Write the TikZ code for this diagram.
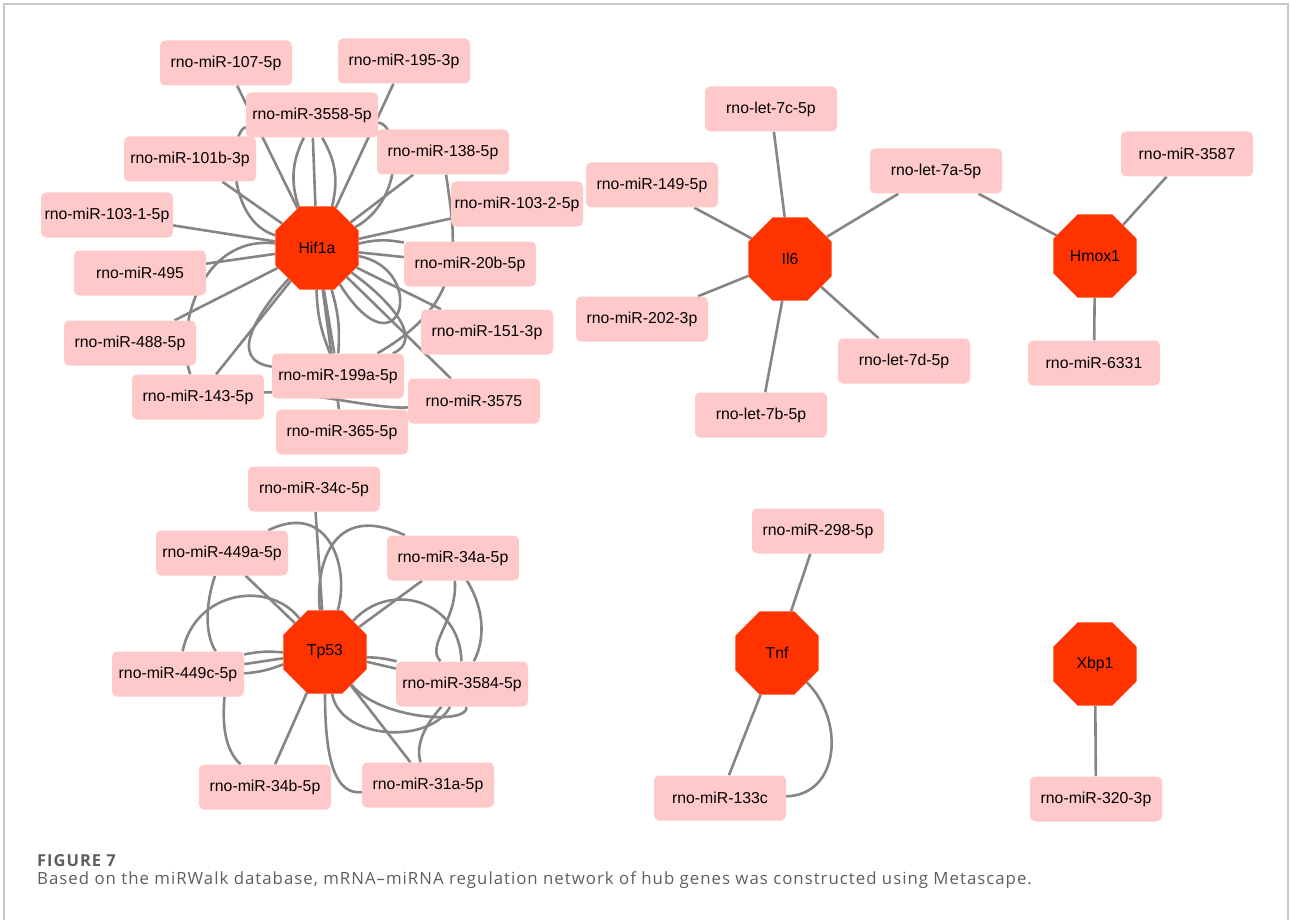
\documentclass[tikz,border=0pt]{standalone}
\usepackage{fontspec}
\setmainfont{Liberation Sans}
\newfontfamily\capfont[LetterSpace=6]{Open Sans}
\usetikzlibrary{shapes.geometric,backgrounds}
\definecolor{genefill}{HTML}{FF3300}
\definecolor{mirfill}{HTML}{FFC9C9}
\definecolor{edgegray}{HTML}{858585}
\definecolor{framegray}{HTML}{C8C8C8}
\definecolor{captxt}{HTML}{5E5E5E}
\tikzset{
  mirbox/.style={rectangle, rounded corners=5pt, fill=mirfill, minimum width=132pt, minimum height=45pt, inner sep=0pt, font=\fontsize{15.8}{18}\selectfont},
  genebox/.style={regular polygon, regular polygon sides=8, minimum size=90pt, inner sep=0pt, fill=genefill, font=\fontsize{15.8}{18}\selectfont},
  link/.style={draw=edgegray, line width=2.6pt},
  capstyle/.style={anchor=base west, inner sep=0pt, text=captxt},
}
\begin{document}
\begin{tikzpicture}[x=1pt,y=-1pt]
\useasboundingbox (0,0) rectangle (1290,920);
\draw[framegray, line width=1.3pt] (4,930) -- (4,4) -- (1288,4) -- (1288,930);

% ---------- Hif1a cluster ----------
\node[genebox] (H) at (317,248) {Hif1a};
\node[mirbox] (a107)  at (226,63)  {rno-miR-107-5p};
\node[mirbox] (a195)  at (404,61)  {rno-miR-195-3p};
\node[mirbox] (a3558) at (312,115) {rno-miR-3558-5p};
\node[mirbox] (a101b) at (190,159) {rno-miR-101b-3p};
\node[mirbox] (a138)  at (443,152) {rno-miR-138-5p};
\node[mirbox] (a1032) at (517,204) {rno-miR-103-2-5p};
\node[mirbox] (a1031) at (107,215) {rno-miR-103-1-5p};
\node[mirbox] (a495)  at (140,273) {rno-miR-495};
\node[mirbox] (a20b)  at (470,264) {rno-miR-20b-5p};
\node[mirbox] (a488)  at (130,343) {rno-miR-488-5p};
\node[mirbox] (a151)  at (487,332) {rno-miR-151-3p};
\node[mirbox] (a199a) at (338,376) {rno-miR-199a-5p};
\node[mirbox] (a143)  at (198,397) {rno-miR-143-5p};
\node[mirbox] (a3575) at (474,401) {rno-miR-3575};
\node[mirbox] (a365)  at (342,432) {rno-miR-365-5p};

% ---------- Il6 / Hmox1 cluster ----------
\node[genebox] (I) at (790,259) {Il6};
\node[mirbox] (b7c)  at (771,109) {rno-let-7c-5p};
\node[mirbox] (b149) at (652,185) {rno-miR-149-5p};
\node[mirbox] (b7a)  at (936,171) {rno-let-7a-5p};
\node[mirbox] (b202) at (642,319) {rno-miR-202-3p};
\node[mirbox] (b7d)  at (904,361) {rno-let-7d-5p};
\node[mirbox] (b7b)  at (761,415) {rno-let-7b-5p};
\node[genebox] (M) at (1095,256) {Hmox1};
\node[mirbox] (b3587) at (1187,154) {rno-miR-3587};
\node[mirbox] (b6331) at (1094,363) {rno-miR-6331};

% ---------- Tp53 cluster ----------
\node[genebox] (T) at (325,652) {Tp53};
\node[mirbox] (c34c)  at (314,489) {rno-miR-34c-5p};
\node[mirbox] (c449a) at (222,553) {rno-miR-449a-5p};
\node[mirbox] (c34a)  at (453,558) {rno-miR-34a-5p};
\node[mirbox] (c449c) at (178,674) {rno-miR-449c-5p};
\node[mirbox] (c3584) at (462,684) {rno-miR-3584-5p};
\node[mirbox] (c34b)  at (265,787) {rno-miR-34b-5p};
\node[mirbox] (c31a)  at (428,785) {rno-miR-31a-5p};

% ---------- Tnf / Xbp1 ----------
\node[genebox] (N) at (777,653) {Tnf};
\node[mirbox] (d298)  at (818,531) {rno-miR-298-5p};
\node[mirbox] (d133c) at (720,798) {rno-miR-133c};
\node[genebox] (X) at (1095,664) {Xbp1};
\node[mirbox] (d320)  at (1096,799) {rno-miR-320-3p};

% ---------- caption ----------
\node[capstyle, font=\capfont\bfseries\fontsize{16.5}{19}\selectfont] (figlabel) at (37,866) {FIGURE 7};
\node[capstyle, font=\capfont\fontsize{16.8}{19}\selectfont] (figcaption) at (37,884) {Based on the miRWalk database, mRNA–miRNA regulation network of hub genes was constructed using Metascape.};

% ---------- edges ----------
\begin{scope}[on background layer]
  \foreach \m in {a107,a195,a3558,a101b,a138,a1032,a1031,a495,a20b,a488,a151,a199a,a143,a3575,a365}
    \draw[link] (H) -- (\m);
  \draw[link] (a3558) to[bend left=22] (H);
  \draw[link] (a3558) to[bend right=22] (H);
  \draw[link] (a3558) .. controls (230,130) and (225,220) .. (H);
  \draw[link] (a3558) .. controls (400,125) and (405,200) .. (H);
  \draw[link] (H) .. controls (200,235) and (175,330) .. (a143);
  \draw[link] (H) .. controls (260,310) and (225,360) .. (a199a);
  \draw[link] (H) .. controls (390,300) and (425,340) .. (a199a);
  \draw[link] (H) to[bend left=10] (a199a);
  \draw[link] (H) to[bend right=10] (a199a);
  \draw[link] (H) .. controls (430,270) and (400,380) .. (H);
  \draw[link] (H) to[bend left=12] (a20b);
  \draw[link] (a138) .. controls (455,240) and (470,300) .. (a199a);
  \draw[link] (a143) .. controls (300,390) and (380,410) .. (a3575);

  \foreach \m in {b7c,b149,b7a,b202,b7d,b7b}
    \draw[link] (I) -- (\m);
  \foreach \m in {b7a,b3587,b6331}
    \draw[link] (M) -- (\m);

  \foreach \m in {c34c,c449a,c34a,c449c,c3584,c34b,c31a}
    \draw[link] (T) -- (\m);
  \draw[link] (c449a) .. controls (330,500) and (350,570) .. (T);
  \draw[link] (c34a) .. controls (330,500) and (315,570) .. (T);
  \draw[link] (c449a.-107) .. controls (205,605) and (205,635) .. (c449c.31);
  \draw[link] (c449c) .. controls (195,590) and (270,580) .. (T);
  \draw[link] (c449c) to[bend left=8] (T);
  \draw[link] (c449c) to[bend right=8] (T);
  \draw[link] (c449c.-26) .. controls (222,725) and (225,750) .. (c34b);
  \draw[link] (T) .. controls (325,760) and (335,795) .. (c31a);
  \draw[link] (c31a) .. controls (415,745) and (425,725) .. (c3584);
  \draw[link] (T) to[bend left=6] (c3584);
  \draw[link] (T) .. controls (340,740) and (430,745) .. (c3584);
  \draw[link] (T) .. controls (380,720) and (470,725) .. (c3584);
  \draw[link] (T) .. controls (390,580) and (460,600) .. (c3584);
  \draw[link] (c34a) .. controls (458,620) and (425,645) .. (c3584);
  \draw[link] (c34a) .. controls (485,610) and (485,640) .. (c3584);

  \draw[link] (N) -- (d298);
  \draw[link] (N) -- (d133c);
  \draw[link] (N) .. controls (845,720) and (840,795) .. (d133c);
  \draw[link] (X) -- (d320);
\end{scope}
\end{tikzpicture}
\end{document}
